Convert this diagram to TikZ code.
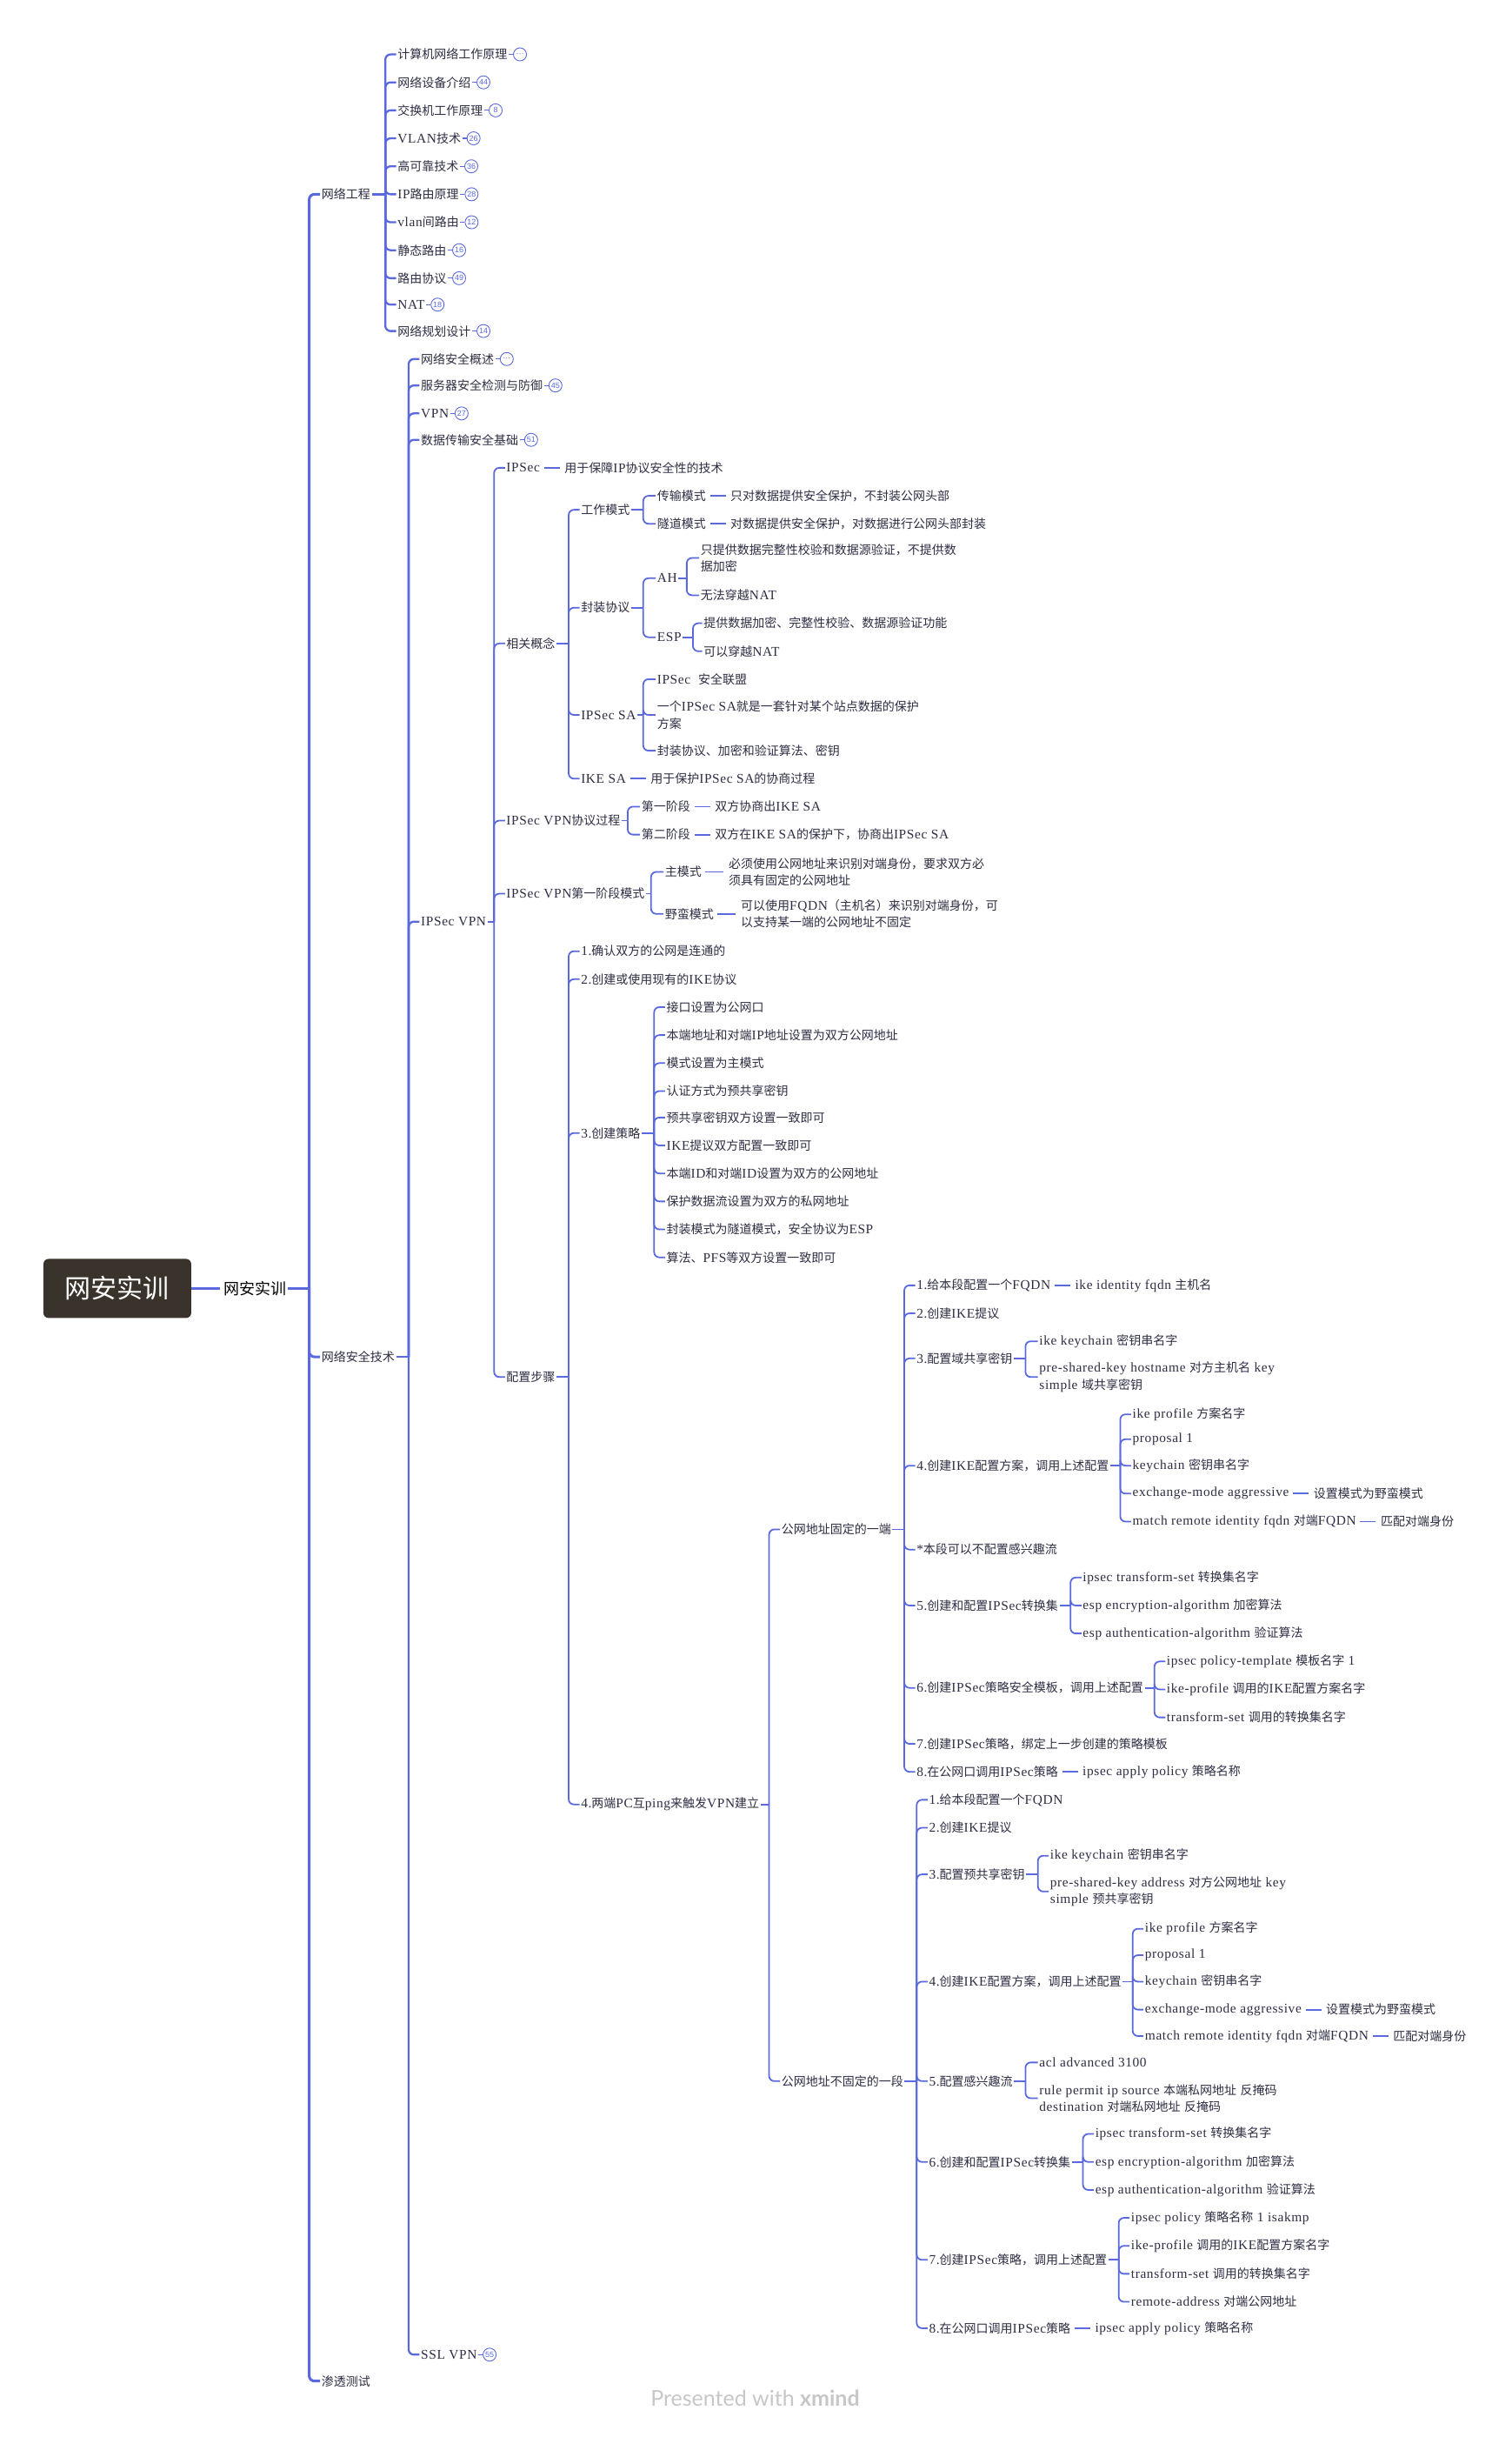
\documentclass[tikz,border=0pt]{standalone}
\usepackage{fontspec}
\setmainfont{Liberation Serif}[Scale=1.1,LetterSpace=4]
\newfontfamily\cjkfont{Noto Sans CJK SC}
\newfontfamily\latfont{Liberation Serif}[Scale=1.1,LetterSpace=4]
\newfontfamily\badgefont{Liberation Sans}
\newfontfamily\markfont{Lato}
\usetikzlibrary{positioning}

% switch to the CJK face for Chinese characters
\XeTeXinterchartokenstate=1
\chardef\cjkclass=7
\count255="3000
\loop\XeTeXcharclass\count255=\cjkclass\ifnum\count255<"9FFF\advance\count255 by 1\repeat
\count255="FF00
\loop\XeTeXcharclass\count255=\cjkclass\ifnum\count255<"FFEF\advance\count255 by 1\repeat
\XeTeXinterchartoks 0 \cjkclass = {\cjkfont}
\XeTeXinterchartoks 4095 \cjkclass = {\cjkfont}
\XeTeXinterchartoks \cjkclass 0 = {\latfont}
\XeTeXinterchartoks \cjkclass 4095 = {\latfont}

\definecolor{lineblue}{RGB}{90,105,222}
\definecolor{txt}{RGB}{46,46,68}
\definecolor{rootbg}{RGB}{58,51,43}

% parent -> spine at x -> children
\newcommand{\fork}[4][link]{%
  \coordinate (tmpx) at (#3,0);
  \coordinate (#2-s) at (#2.east -| tmpx);
  \draw[#1] (#2.east) -- (#2-s);
  \foreach \ch in {#4} {\draw[#1, rounded corners=6pt] (#2-s) |- (\ch.west);}
}

\begin{document}
\begin{tikzpicture}[x=1.787pt,y=-1.787pt]
	\tikzstyle{topic}=[anchor=west, inner sep=1.5pt, text=txt, align=left, font=\fontsize{14}{19.5}\selectfont]
	\tikzstyle{link}=[draw=lineblue, line width=1.8pt]
	\tikzstyle{sublink}=[link, line width=2.3pt]
	\tikzstyle{mainlink}=[link, line width=3pt]
	\tikzstyle{leaflink}=[link, shorten <=3pt, shorten >=4pt]
	\tikzstyle{badge}=[circle, draw=lineblue, line width=0.9pt, text=lineblue, minimum size=15pt, inner sep=0pt, font=\badgefont\fontsize{9}{9}\selectfont]
	\tikzstyle{rootbox}=[fill=rootbg, rounded corners=6pt, minimum width=170pt, minimum height=68pt, text=white, font=\fontsize{30}{30}\selectfont]

	\fill[white] (0,0) rectangle (973,1568);
	\useasboundingbox (0,0) rectangle (973,1568);

	%root
	\node[rootbox] (root) at (75.5,829) {网安实训};
	\node[topic, text=black, font=\fontsize{18}{18}\selectfont] (wa) at (143,829) {网安实训};
	\draw[mainlink, shorten >=3pt] (root) -- (wa);

	\node[topic] (netEng) at (206,125) {网络工程};
	\node[topic] (secTech) at (206,873) {网络安全技术};
	\node[topic] (pentest) at (206,1532) {渗透测试};
	\fork[mainlink]{wa}{199}{netEng,secTech,pentest}

	%network engineering
	\node[topic] (n1) at (255,35) {计算机网络工作原理};
	\node[topic] (n2) at (255,53) {网络设备介绍};
	\node[topic] (n3) at (255,71) {交换机工作原理};
	\node[topic] (n4) at (255,89) {VLAN技术};
	\node[topic] (n5) at (255,107) {高可靠技术};
	\node[topic] (n6) at (255,125) {IP路由原理};
	\node[topic] (n7) at (255,143) {vlan间路由};
	\node[topic] (n8) at (255,161) {静态路由};
	\node[topic] (n9) at (255,179) {路由协议};
	\node[topic] (n10) at (255,196) {NAT};
	\node[topic] (n11) at (255,213) {网络规划设计};
	\fork[sublink]{netEng}{248}{n1,n2,n3,n4,n5,n6,n7,n8,n9,n10,n11}
	\node[badge, right=5pt of n1] (n1b) {···};
	\node[badge, right=5pt of n2] (n2b) {44};
	\node[badge, right=5pt of n3] (n3b) {8};
	\node[badge, right=5pt of n4] (n4b) {26};
	\node[badge, right=5pt of n5] (n5b) {36};
	\node[badge, right=5pt of n6] (n6b) {28};
	\node[badge, right=5pt of n7] (n7b) {12};
	\node[badge, right=5pt of n8] (n8b) {16};
	\node[badge, right=5pt of n9] (n9b) {49};
	\node[badge, right=5pt of n10] (n10b) {18};
	\node[badge, right=5pt of n11] (n11b) {14};
	\foreach \n in {n1,n2,n3,n4,n5,n6,n7,n8,n9,n10,n11} {\draw[link, line width=1.2pt] (\n) -- (\n b);}

	%network security
	\node[topic] (s1) at (270,231) {网络安全概述};
	\node[topic] (s2) at (270,248) {服务器安全检测与防御};
	\node[topic] (s3) at (270,266) {VPN};
	\node[topic] (s4) at (270,283) {数据传输安全基础};
	\node[topic] (ipvpn) at (270,593) {IPSec VPN};
	\node[topic] (ssl) at (270,1515) {SSL VPN};
	\fork[sublink]{secTech}{263}{s1,s2,s3,s4,ipvpn,ssl}
	\node[badge, right=5pt of s1] (s1b) {···};
	\node[badge, right=5pt of s2] (s2b) {45};
	\node[badge, right=5pt of s3] (s3b) {27};
	\node[badge, right=5pt of s4] (s4b) {51};
	\node[badge, right=5pt of ssl] (sslb) {55};
	\foreach \n in {s1,s2,s3,s4,ssl} {\draw[link, line width=1.2pt] (\n) -- (\n b);}

	%ipsec vpn
	\node[topic] (ipsec) at (325,301) {IPSec};
	\node[topic] (concept) at (325,414) {相关概念};
	\node[topic] (proc) at (325,528) {IPSec VPN协议过程};
	\node[topic] (phase1) at (325,575) {IPSec VPN第一阶段模式};
	\node[topic] (steps) at (325,886) {配置步骤};
	\fork{ipvpn}{318}{ipsec,concept,proc,phase1,steps}
	\node[topic, right=25pt of ipsec] (ipsecD) {用于保障IP协议安全性的技术};
	\draw[leaflink] (ipsec) -- (ipsecD);

		%concepts
		\node[topic] (mode) at (373,328) {工作模式};
		\node[topic] (encap) at (373,391) {封装协议};
		\node[topic] (ipsa) at (373,460) {IPSec SA};
		\node[topic] (ikesa) at (373,501) {IKE SA};
		\fork{concept}{366}{mode,encap,ipsa,ikesa}
		\node[topic, right=25pt of ikesa] (ikesaD) {用于保护IPSec SA的协商过程};
		\draw[leaflink] (ikesa) -- (ikesaD);

		\node[topic] (trans) at (422,319) {传输模式};
		\node[topic] (tunnel) at (422,337) {隧道模式};
		\fork{mode}{414}{trans,tunnel}
		\node[topic, right=25pt of trans] (transD) {只对数据提供安全保护，不封装公网头部};
		\node[topic, right=25pt of tunnel] (tunnelD) {对数据提供安全保护，对数据进行公网头部封装};
		\draw[leaflink] (trans) -- (transD);
		\draw[leaflink] (tunnel) -- (tunnelD);

		\node[topic] (ah) at (422,372) {AH};
		\node[topic] (esp) at (422,410) {ESP};
		\fork{encap}{414}{ah,esp}
		\node[topic] (ah1) at (450,359) {只提供数据完整性校验和数据源验证，不提供数\\据加密};
		\node[topic] (ah2) at (450,383) {无法穿越NAT};
		\fork{ah}{442}{ah1,ah2}
		\node[topic] (esp1) at (452,401) {提供数据加密、完整性校验、数据源验证功能};
		\node[topic] (esp2) at (452,419) {可以穿越NAT};
		\fork{esp}{446}{esp1,esp2}

		\node[topic] (sa1) at (422,437) {IPSec\ \ 安全联盟};
		\node[topic] (sa2) at (422,460) {一个IPSec SA就是一套针对某个站点数据的保护\\方案};
		\node[topic] (sa3) at (422,483) {封装协议、加密和验证算法、密钥};
		\fork{ipsa}{414}{sa1,sa2,sa3}

		%protocol process
		\node[topic] (st1) at (412,519) {第一阶段};
		\node[topic] (st2) at (412,537) {第二阶段};
		\fork{proc}{404}{st1,st2}
		\node[topic, right=25pt of st1] (st1D) {双方协商出IKE SA};
		\node[topic, right=25pt of st2] (st2D) {双方在IKE SA的保护下，协商出IPSec SA};
		\draw[leaflink] (st1) -- (st1D);
		\draw[leaflink] (st2) -- (st2D);

		\node[topic] (mainm) at (427,561) {主模式};
		\node[topic] (aggr) at (427,588) {野蛮模式};
		\fork{phase1}{419}{mainm,aggr}
		\node[topic, right=28pt of mainm] (mainD) {必须使用公网地址来识别对端身份，要求双方必\\须具有固定的公网地址};
		\node[topic, right=28pt of aggr] (aggrD) {可以使用FQDN（主机名）来识别对端身份，可\\以支持某一端的公网地址不固定};
		\draw[leaflink] (mainm) -- (mainD);
		\draw[leaflink] (aggr) -- (aggrD);

	%configuration steps
	\node[topic] (c1) at (373,612) {1.确认双方的公网是连通的};
	\node[topic] (c2) at (373,630) {2.创建或使用现有的IKE协议};
	\node[topic] (c3) at (373,729) {3.创建策略};
	\node[topic] (c4) at (373,1161) {4.两端PC互ping来触发VPN建立};
	\fork{steps}{366}{c1,c2,c3,c4}

	\node[topic] (p1) at (428,648) {接口设置为公网口};
	\node[topic] (p2) at (428,666) {本端地址和对端IP地址设置为双方公网地址};
	\node[topic] (p3) at (428,684) {模式设置为主模式};
	\node[topic] (p4) at (428,702) {认证方式为预共享密钥};
	\node[topic] (p5) at (428,719) {预共享密钥双方设置一致即可};
	\node[topic] (p6) at (428,737) {IKE提议双方配置一致即可};
	\node[topic] (p7) at (428,755) {本端ID和对端ID设置为双方的公网地址};
	\node[topic] (p8) at (428,773) {保护数据流设置为双方的私网地址};
	\node[topic] (p9) at (428,791) {封装模式为隧道模式，安全协议为ESP};
	\node[topic] (p10) at (428,809) {算法、PFS等双方设置一致即可};
	\fork{c3}{421}{p1,p2,p3,p4,p5,p6,p7,p8,p9,p10}

	\node[topic] (fixA) at (502,984) {公网地址固定的一端};
	\node[topic] (dynB) at (502,1339) {公网地址不固定的一段};
	\fork{c4}{495}{fixA,dynB}

		%fixed address side
		\node[topic] (a1) at (589,827) {1.给本段配置一个FQDN};
		\node[topic] (a2) at (589,845) {2.创建IKE提议};
		\node[topic] (a3) at (589,874) {3.配置域共享密钥};
		\node[topic] (a4) at (589,943) {4.创建IKE配置方案，调用上述配置};
		\node[topic] (a0) at (589,997) {*本段可以不配置感兴趣流};
		\node[topic] (a5) at (589,1033) {5.创建和配置IPSec转换集};
		\node[topic] (a6) at (589,1086) {6.创建IPSec策略安全模板，调用上述配置};
		\node[topic] (a7) at (589,1122) {7.创建IPSec策略，绑定上一步创建的策略模板};
		\node[topic] (a8) at (589,1140) {8.在公网口调用IPSec策略};
		\fork{fixA}{582}{a1,a2,a3,a4,a0,a5,a6,a7,a8}
		\node[topic, right=25pt of a1] (a1D) {ike identity fqdn 主机名};
		\draw[leaflink] (a1) -- (a1D);

		\node[topic] (a3k) at (668,863) {ike keychain 密钥串名字};
		\node[topic] (a3p) at (668,886) {pre-shared-key hostname 对方主机名 key\\simple 域共享密钥};
		\fork{a3}{660}{a3k,a3p}

		\node[topic] (a4a) at (728,910) {ike profile 方案名字};
		\node[topic] (a4b) at (728,926) {proposal 1};
		\node[topic] (a4c) at (728,943) {keychain 密钥串名字};
		\node[topic] (a4d) at (728,961) {exchange-mode aggressive};
		\node[topic] (a4e) at (728,979) {match remote identity fqdn 对端FQDN};
		\fork{a4}{721}{a4a,a4b,a4c,a4d,a4e}
		\node[topic, right=25pt of a4d] (a4dD) {设置模式为野蛮模式};
		\node[topic, right=25pt of a4e] (a4eD) {匹配对端身份};
		\draw[leaflink] (a4d) -- (a4dD);
		\draw[leaflink] (a4e) -- (a4eD);

		\node[topic] (a5a) at (696,1015) {ipsec transform-set 转换集名字};
		\node[topic] (a5b) at (696,1033) {esp encryption-algorithm 加密算法};
		\node[topic] (a5c) at (696,1051) {esp authentication-algorithm 验证算法};
		\fork{a5}{689}{a5a,a5b,a5c}

		\node[topic] (a6a) at (750,1069) {ipsec policy-template 模板名字 1};
		\node[topic] (a6b) at (750,1087) {ike-profile 调用的IKE配置方案名字};
		\node[topic] (a6c) at (750,1105) {transform-set 调用的转换集名字};
		\fork{a6}{743}{a6a,a6b,a6c}

		\node[topic, right=25pt of a8] (a8D) {ipsec apply policy 策略名称};
		\draw[leaflink] (a8) -- (a8D);

		%dynamic address side
		\node[topic] (b1) at (597,1158) {1.给本段配置一个FQDN};
		\node[topic] (b2) at (597,1176) {2.创建IKE提议};
		\node[topic] (b3) at (597,1206) {3.配置预共享密钥};
		\node[topic] (b4) at (597,1275) {4.创建IKE配置方案，调用上述配置};
		\node[topic] (b5) at (597,1339) {5.配置感兴趣流};
		\node[topic] (b6) at (597,1391) {6.创建和配置IPSec转换集};
		\node[topic] (b7) at (597,1454) {7.创建IPSec策略，调用上述配置};
		\node[topic] (b8) at (597,1498) {8.在公网口调用IPSec策略};
		\fork{dynB}{590}{b1,b2,b3,b4,b5,b6,b7,b8}

		\node[topic] (b3k) at (675,1194) {ike keychain 密钥串名字};
		\node[topic] (b3p) at (675,1217) {pre-shared-key address 对方公网地址 key\\simple 预共享密钥};
		\fork{b3}{668}{b3k,b3p}

		\node[topic] (b4a) at (736,1241) {ike profile 方案名字};
		\node[topic] (b4b) at (736,1258) {proposal 1};
		\node[topic] (b4c) at (736,1275) {keychain 密钥串名字};
		\node[topic] (b4d) at (736,1293) {exchange-mode aggressive};
		\node[topic] (b4e) at (736,1310) {match remote identity fqdn 对端FQDN};
		\fork{b4}{729}{b4a,b4b,b4c,b4d,b4e}
		\node[topic, right=25pt of b4d] (b4dD) {设置模式为野蛮模式};
		\node[topic, right=25pt of b4e] (b4eD) {匹配对端身份};
		\draw[leaflink] (b4d) -- (b4dD);
		\draw[leaflink] (b4e) -- (b4eD);

		\node[topic] (b5a) at (668,1327) {acl advanced 3100};
		\node[topic] (b5b) at (668,1350) {rule permit ip source 本端私网地址 反掩码\\destination 对端私网地址 反掩码};
		\fork{b5}{660}{b5a,b5b}

		\node[topic] (b6a) at (704,1373) {ipsec transform-set 转换集名字};
		\node[topic] (b6b) at (704,1391) {esp encryption-algorithm 加密算法};
		\node[topic] (b6c) at (704,1409) {esp authentication-algorithm 验证算法};
		\fork{b6}{697}{b6a,b6b,b6c}

		\node[topic] (b7a) at (727,1427) {ipsec policy 策略名称 1 isakmp};
		\node[topic] (b7b) at (727,1445) {ike-profile 调用的IKE配置方案名字};
		\node[topic] (b7c) at (727,1463) {transform-set 调用的转换集名字};
		\node[topic] (b7d) at (727,1481) {remote-address 对端公网地址};
		\fork{b7}{720}{b7a,b7b,b7c,b7d}

		\node[topic, right=25pt of b8] (b8D) {ipsec apply policy 策略名称};
		\draw[leaflink] (b8) -- (b8D);

	%watermark
	\node[text=black!22, font=\markfont\fontsize{25}{25}\selectfont] (mark) at (486,1543) {Presented with \textbf{xmind}};
\end{tikzpicture}
\end{document}
